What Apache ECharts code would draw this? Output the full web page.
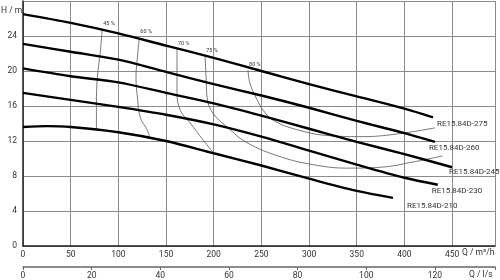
<!DOCTYPE html>
<html>
<head>
<meta charset="utf-8">
<script src="https://cdn.jsdelivr.net/npm/echarts@6/dist/echarts.min.js"></script>
<style>
  html, body { margin: 0; padding: 0; background: #fff; }
  #chart { width: 500px; height: 280px; }
</style>
</head>
<body>
<div id="chart"></div>
<script>
// pump curves, Q in m3/h, H in m
var q275 = [0, 50, 100, 150, 200, 250, 300, 350, 400, 430];
var h275 = [26.5, 25.5, 24.3, 22.9, 21.5, 20.0, 18.5, 17.1, 15.7, 14.7];
var q260 = [0, 50, 100, 150, 200, 250, 300, 350, 400, 432];
var h260 = [23.1, 22.2, 21.3, 19.9, 18.5, 17.2, 15.8, 14.3, 12.9, 11.9];
var q245 = [0, 50, 100, 150, 200, 250, 300, 350, 400, 450];
var h245 = [20.3, 19.4, 18.7, 17.5, 16.3, 14.9, 13.4, 11.9, 10.5, 9.0];
var q230 = [0, 50, 100, 150, 200, 250, 300, 350, 400, 435];
var h230 = [17.5, 16.7, 15.9, 15.0, 13.9, 12.5, 10.9, 9.3, 7.8, 7.0];
var q210 = [0, 25, 50, 100, 150, 200, 250, 300, 350, 388];
var h210 = [13.6, 13.7, 13.6, 13.0, 12.0, 10.6, 9.2, 7.7, 6.3, 5.5];
var pumpNames = ['RE15.84D-275', 'RE15.84D-260', 'RE15.84D-245', 'RE15.84D-230', 'RE15.84D-210'];

// iso-efficiency curves
var q45 = [83, 81, 78, 77, 77];
var h45 = [24.7, 22.1, 19.3, 16.3, 13.4];
var q60 = [122, 120, 118.5, 120, 123, 130, 133];
var h60 = [23.8, 21.6, 19.3, 17.0, 14.7, 13.3, 12.4];
var q70 = [161.5, 161.5, 161.5, 165, 175, 189, 200];
var h70 = [22.5, 20.1, 17.5, 15.5, 14.1, 12.1, 10.6];
var q75 = [191, 192, 193, 199, 214, 235, 270, 304, 340, 375, 409, 440];
var h75 = [21.6, 19.3, 17.0, 15.2, 13.6, 11.8, 10.2, 9.3, 8.9, 9.0, 9.6, 10.3];
var q80 = [236, 238, 245.5, 252, 262, 287, 322, 357, 392, 432];
var h80 = [20.1, 18.6, 16.7, 15.5, 14.4, 13.3, 12.6, 12.5, 12.8, 13.5];
var effNames = ['45 %', '60 %', '70 %', '75 %', '80 %'];

var F = 'Roboto, sans-serif';

var chart = echarts.init(document.getElementById('chart'));

function pairs(q, h) {
    return q.map(function (v, i) { return [v, h[i]]; });
}

var pumps = [[q275, h275], [q260, h260], [q245, h245], [q230, h230], [q210, h210]];
var endOffsets = [[-4, 7], [-14, 6], [-11, 5], [-14, 6], [6, 8]];
var effs = [[q45, h45], [q60, h60], [q70, h70], [q75, h75], [q80, h80]];

var series = [];
effs.forEach(function (e, k) {
    var data = pairs(e[0], e[1]).map(function (p, i) {
        if (i === 0) {
            return { value: p, label: { show: true, formatter: effNames[k] } };
        }
        return p;
    });
    series.push({
        type: 'line',
        smooth: 0.4,
        symbol: 'circle',
        symbolSize: 0,
        showSymbol: true,
        silent: true,
        lineStyle: { color: '#555', width: 0.8 },
        label: { show: false, position: 'right', offset: [-4, -6], fontSize: 5.5, fontFamily: F, color: '#333' },
        data: data
    });
});
pumps.forEach(function (p, k) {
    series.push({
        type: 'line',
        name: pumpNames[k],
        smooth: 0.3,
        symbol: 'none',
        silent: true,
        lineStyle: { color: '#000', width: 2.4 },
        endLabel: {
            show: true,
            formatter: pumpNames[k],
            offset: endOffsets[k],
            fontSize: 8,
            fontFamily: F,
            color: '#333'
        },
        data: pairs(p[0], p[1])
    });
});

var option = {
    animation: false,
    grid: { left: 23, right: 5, top: 1, bottom: 34 },
    xAxis: [
        {
            type: 'value',
            min: 0,
            max: 495,
            interval: 50,
            axisLine: { lineStyle: { color: '#222', width: 1.5 } },
            axisTick: { show: false },
            axisLabel: {
                margin: 4, fontSize: 8.5, fontFamily: F, color: '#333',
                formatter: function (v) { return v % 50 === 0 ? v : ''; }
            },
            splitLine: { lineStyle: { color: '#8a8a8a', width: 1 } }
        },
        {
            type: 'value',
            position: 'bottom',
            offset: 21,
            min: 0,
            max: 137.5,
            interval: 20,
            axisLine: { show: true, lineStyle: { color: '#666', width: 1.5 } },
            axisTick: { show: true, length: 3, lineStyle: { color: '#666' } },
            axisLabel: {
                margin: 4, fontSize: 8.5, fontFamily: F, color: '#333',
                formatter: function (v) { return v % 20 === 0 ? v : ''; }
            },
            splitLine: { show: false }
        }
    ],
    yAxis: {
        type: 'value',
        min: 0,
        max: 28,
        interval: 4,
        axisLine: { show: true, lineStyle: { color: '#222', width: 1.5 } },
        axisTick: { show: false },
        axisLabel: {
            margin: 6, fontSize: 8.5, fontFamily: F, color: '#333',
            formatter: function (v) { return v === 28 ? '' : v; }
        },
        splitLine: { lineStyle: { color: '#8a8a8a', width: 1 } }
    },
    graphic: [
        { type: 'text', left: 1, top: 6, style: { text: 'H / m', fontSize: 8.5, fontFamily: F, fill: '#333' } },
        { type: 'text', left: 462, top: 248, style: { text: 'Q / m³/h', fontSize: 8.5, fontFamily: F, fill: '#333' } },
        { type: 'text', left: 469, top: 270, style: { text: 'Q / l/s', fontSize: 8.5, fontFamily: F, fill: '#333' } }
    ],
    series: series
};

chart.setOption(option);
</script>
</body>
</html>
